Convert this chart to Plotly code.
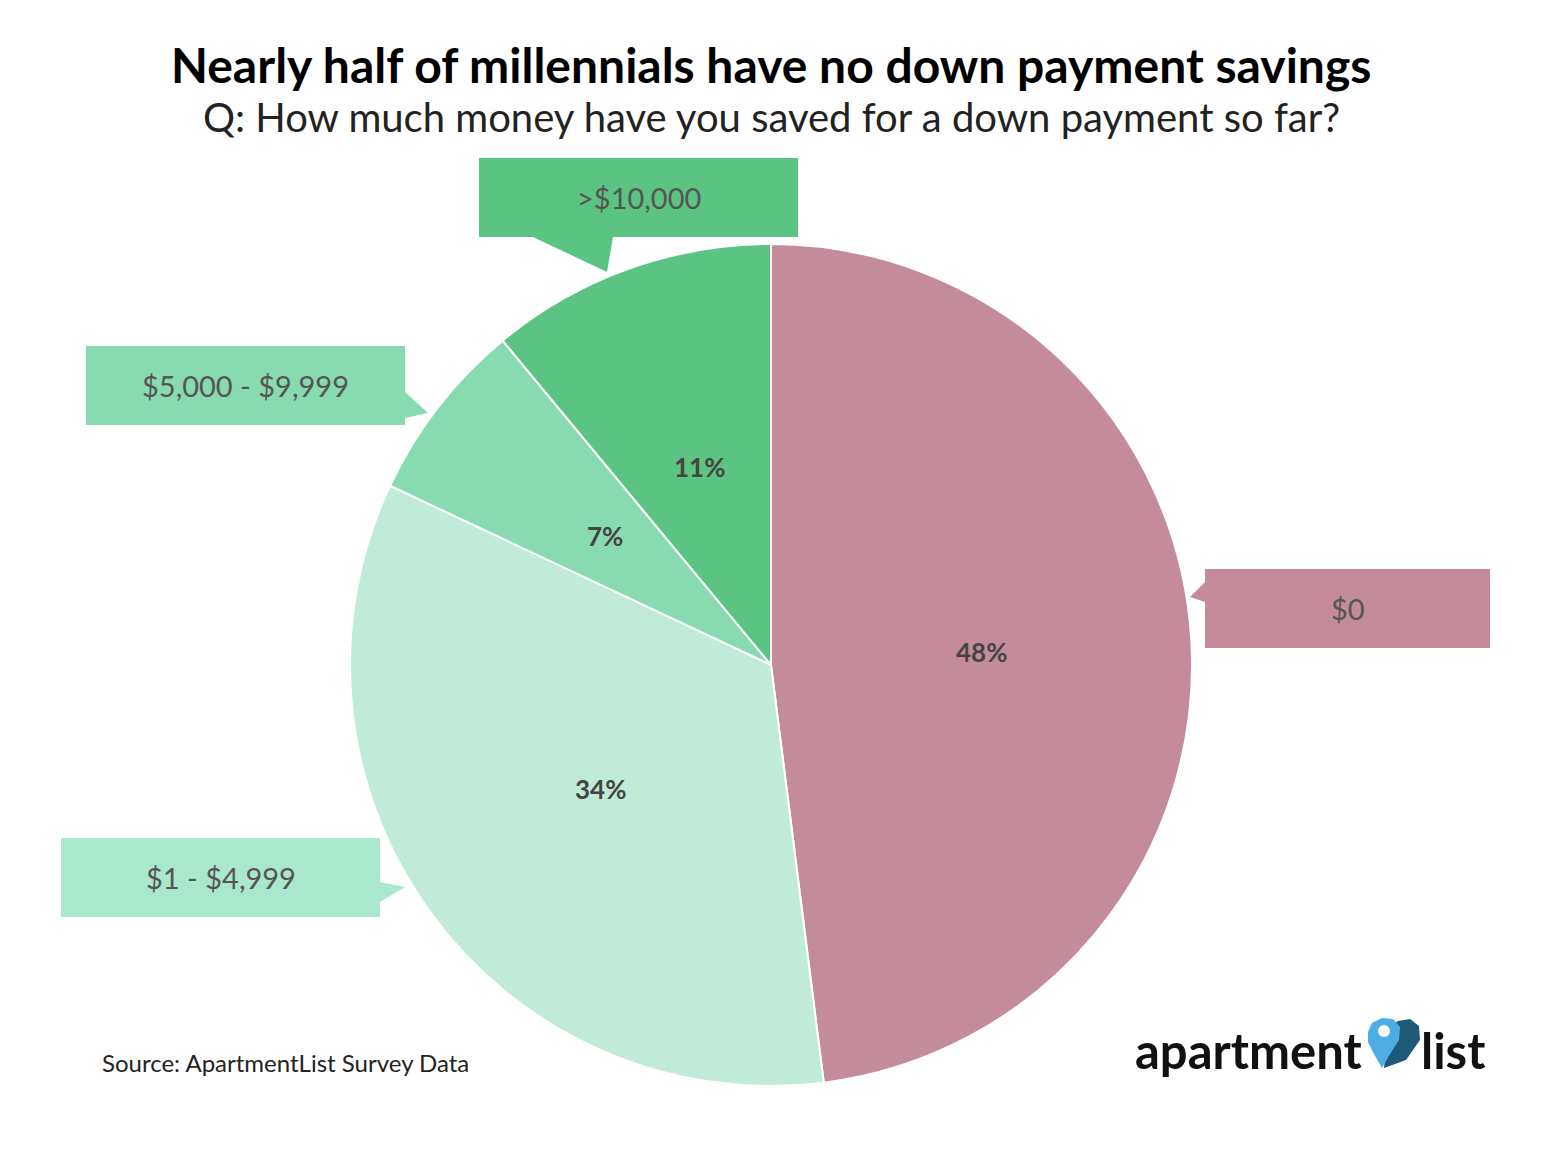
import math
import plotly.graph_objects as go

# ---- data ----
categories = ["$0", "$1 - $4,999", "$5,000 - $9,999", ">$10,000"]
shares = [48, 34, 7, 11]
slice_colors = ["#C48B9B", "#BFEBD8", "#88DBB0", "#5CC483"]
box_colors = ["#C48B9B", "#AAE8CD", "#88DBB0", "#5CC483"]

title = "Nearly half of millennials have no down payment savings"
subtitle = "Q: How much money have you saved for a down payment so far?"
source = "Source: ApartmentList Survey Data"

W, H = 1562, 1162
CX, CY, R = 771, 665, 421  # pie centre/radius in pixels (layout)


def px(x):
    return x / W


def py(y):
    return 1 - y / H


fig = go.Figure()
fig.add_trace(go.Pie(
    labels=categories,
    values=shares,
    sort=False,
    direction="clockwise",
    rotation=0,
    marker=dict(colors=slice_colors, line=dict(color="white", width=2)),
    textinfo="none",
    hoverinfo="label+percent",
    showlegend=False,
    domain=dict(x=[px(CX - R), px(CX + R)], y=[py(CY + R), py(CY - R)]),
))

shapes = []
annotations = []

# percentage labels placed at half radius on each slice's mid-angle
total = sum(shares)
cum = 0
for v in shares:
    mid = (cum + v / 2) / total * 2 * math.pi
    cum += v
    lx = CX + 0.5 * R * math.sin(mid)
    ly = CY - 0.5 * R * math.cos(mid)
    annotations.append(dict(xref="paper", yref="paper", x=px(lx), y=py(ly),
                            text=f"<b>{round(v / total * 100)}%</b>", showarrow=False,
                            xanchor="center", yanchor="middle",
                            font=dict(family="Lato", size=26, color="#444444")))

# callout boxes: (category index, rect px, pointer polygon px)
callouts = [
    (0, (1205, 569, 1490, 648), [(1205, 582), (1190, 597), (1205, 602)]),
    (1, (61, 838, 380, 917), [(380, 882), (405, 887), (380, 902)]),
    (2, (86, 346, 405, 425), [(405, 392), (428, 413), (405, 418)]),
    (3, (479, 158, 798, 237), [(533, 237), (607, 272), (613, 237)]),
]
for idx, (x0, y0, x1, y1), tri in callouts:
    col = box_colors[idx]
    shapes.append(dict(type="rect", xref="paper", yref="paper",
                       x0=px(x0), x1=px(x1), y0=py(y1), y1=py(y0),
                       fillcolor=col, line=dict(width=0), layer="above"))
    path = "M " + " L ".join(f"{px(a):.5f},{py(b):.5f}" for a, b in tri) + " Z"
    shapes.append(dict(type="path", xref="paper", yref="paper", path=path,
                       fillcolor=col, line=dict(width=0), layer="above"))
    annotations.append(dict(xref="paper", yref="paper",
                            x=px((x0 + x1) / 2), y=py((y0 + y1) / 2),
                            text=categories[idx], showarrow=False,
                            xanchor="center", yanchor="middle",
                            font=dict(family="Lato", size=29, color="#555555")))

# title & subtitle
annotations.append(dict(xref="paper", yref="paper", x=px(771), y=py(64),
                        text=f"<b>{title}</b>", showarrow=False,
                        xanchor="center", yanchor="middle",
                        font=dict(family="Lato", size=48, color="#000000")))
annotations.append(dict(xref="paper", yref="paper", x=px(771), y=py(117),
                        text=subtitle, showarrow=False,
                        xanchor="center", yanchor="middle",
                        font=dict(family="Lato", size=40, color="#222222")))
# source
annotations.append(dict(xref="paper", yref="paper", x=px(100), y=py(1062),
                        text=source, showarrow=False,
                        xanchor="left", yanchor="middle",
                        font=dict(family="Lato", size=24, color="#222222")))
# logo text
annotations.append(dict(xref="paper", yref="paper", x=px(1364), y=py(1050),
                        text="<b>apartment</b>", showarrow=False,
                        xanchor="right", yanchor="middle",
                        font=dict(family="Lato", size=49, color="#111111")))
annotations.append(dict(xref="paper", yref="paper", x=px(1419), y=py(1050),
                        text="<b>list</b>", showarrow=False,
                        xanchor="left", yanchor="middle",
                        font=dict(family="Lato", size=49, color="#111111")))
# logo pin (dark back heart + light front pin)
dark = [(1388, 1028), (1398, 1021), (1410, 1019), (1419, 1026), (1420, 1040), (1406, 1060), (1384, 1068)]
shapes.append(dict(type="path", xref="paper", yref="paper",
                   path="M " + " L ".join(f"{px(a):.5f},{py(b):.5f}" for a, b in dark) + " Z",
                   fillcolor="#1E5A78", line=dict(width=0)))
light = [(1368, 1032), (1372, 1023), (1382, 1018), (1393, 1019), (1400, 1027), (1399, 1040), (1390, 1054), (1382, 1068), (1374, 1054), (1368, 1042)]
shapes.append(dict(type="path", xref="paper", yref="paper",
                   path="M " + " L ".join(f"{px(a):.5f},{py(b):.5f}" for a, b in light) + " Z",
                   fillcolor="#4DAEE3", line=dict(width=0)))
shapes.append(dict(type="circle", xref="paper", yref="paper",
                   x0=px(1378), x1=px(1390), y0=py(1037), y1=py(1025),
                   fillcolor="white", line=dict(width=0)))

fig.update_layout(
    width=W, height=H, autosize=False,
    margin=dict(l=0, r=0, t=0, b=0),
    paper_bgcolor="white", plot_bgcolor="white",
    shapes=shapes, annotations=annotations,
)

fig.write_html("out.html")
